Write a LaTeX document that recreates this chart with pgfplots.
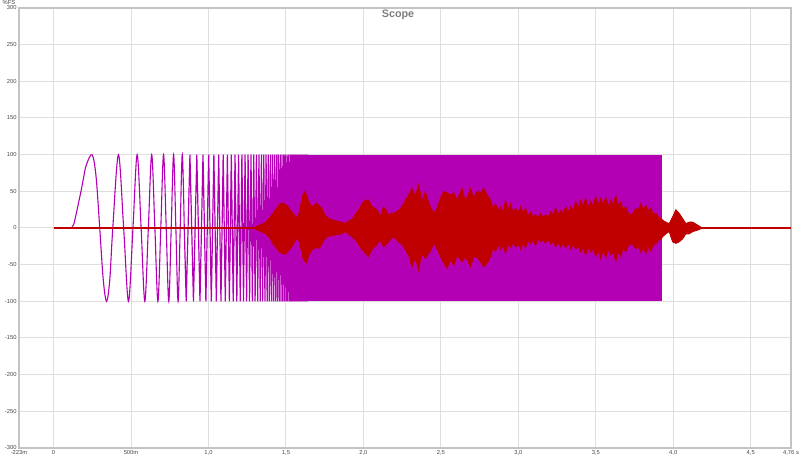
\documentclass[border=0pt]{standalone}
\usepackage{fontspec}
\setmainfont{Liberation Sans}
\usepackage{pgfplots}
\usepackage{pgfplotstable}
\pgfplotsset{compat=1.18}
\usepgfplotslibrary{fillbetween}
\definecolor{mag}{RGB}{180,0,180}
\definecolor{resp}{RGB}{192,0,0}
\definecolor{gridc}{RGB}{222,222,222}
\definecolor{framec}{RGB}{195,195,195}
\definecolor{labc}{RGB}{70,70,70}
\definecolor{titc}{RGB}{125,125,125}

\pgfplotstableread{
t up lo
1.2800 0 0
1.3001 1 -1
1.3195 3 -3
1.3454 5 -6
1.3713 8 -8
1.3972 15 -14
1.4166 20 -22
1.4405 27 -28
1.4554 32 -33
1.4728 34 -34
1.4877 33 -36
1.5052 31 -34
1.5201 27 -30
1.5375 22 -26
1.5524 18 -20
1.5699 14 -14
1.5847 20 -18
1.5977 35 -30
1.6106 46 -42
1.6235 50 -46
1.6345 44 -48
1.6462 36 -38
1.6669 29 -30
1.6818 31 -28
1.6992 34 -26
1.7141 30 -28
1.7316 27 -22
1.7464 20 -16
1.7639 15 -12
1.7853 12 -11
1.8066 11 -10
1.8305 9 -9
1.8609 8 -8
1.8823 6 -5
1.9017 9 -8
1.9256 12 -12
1.9470 18 -16
1.9664 24 -22
1.9858 31 -28
2.0006 36 -32
2.0181 38 -36
2.0330 38 -39
2.0550 29 -29
2.0763 27 -25
2.0957 22 -20
2.1087 15 -17
2.1300 29 -26
2.1475 24 -22
2.1624 18 -19
2.1798 20 -14
2.1947 20 -12
2.2122 22 -16
2.2270 24 -19
2.2445 28 -22
2.2594 33 -26
2.2768 40 -32
2.2917 45 -37
2.3027 50 -46
2.3137 54 -53
2.3241 48 -46
2.3351 45 -41
2.3461 52 -50
2.3564 59 -58
2.3674 48 -45
2.3784 36 -37
2.3888 42 -38
2.3997 50 -42
2.4159 38 -36
2.4321 29 -32
2.4534 20 -21
2.4754 27 -29
2.4968 41 -39
2.5181 50 -48
2.5401 48 -55
2.5614 45 -44
2.5828 48 -51
2.6048 38 -37
2.6197 46 -42
2.6371 54 -46
2.6585 36 -39
2.6746 45 -46
2.6908 54 -53
2.7122 41 -39
2.7342 50 -40
2.7555 48 -46
2.7769 54 -53
2.7988 45 -48
2.8202 38 -39
2.8364 27 -28
2.8525 33 -32
2.8687 24 -23
2.8849 29 -29
2.9011 22 -24
2.9172 38 -35
2.9334 25 -22
2.9495 33 -27
2.9657 21 -20
2.9819 27 -26
2.9981 21 -22
3.0142 29 -29
3.0304 20 -21
3.0466 27 -27
3.0628 17 -18
3.0789 22 -21
3.0951 15 -17
3.1113 18 -24
3.1275 14 -15
3.1436 20 -19
3.1598 14 -16
3.1759 18 -21
3.1921 15 -16
3.2083 22 -22
3.2245 18 -19
3.2406 27 -26
3.2568 19 -20
3.2730 24 -26
3.2892 20 -21
3.3053 29 -27
3.3215 22 -21
3.3376 29 -29
3.3538 24 -22
3.3700 36 -29
3.3862 27 -24
3.4023 38 -33
3.4185 29 -27
3.4347 41 -37
3.4509 28 -27
3.4670 36 -33
3.4832 30 -28
3.4994 43 -39
3.5156 32 -31
3.5317 41 -42
3.5479 31 -30
3.5640 42 -41
3.5802 30 -29
3.5964 38 -37
3.6126 31 -33
3.6287 45 -46
3.6449 30 -32
3.6611 36 -39
3.6773 25 -27
3.6934 29 -33
3.7096 20 -24
3.7257 18 -22
3.7419 21 -23
3.7581 27 -29
3.7743 24 -25
3.7904 33 -33
3.8066 25 -27
3.8228 31 -35
3.8390 24 -26
3.8551 27 -32
3.8713 19 -22
3.8875 20 -22
3.9037 15 -17
3.9198 13 -15
3.9360 10 -11
3.9521 8 -8
3.9735 6 -5
3.9955 15 -19
4.0168 25 -21
4.0382 20 -19
4.0602 13 -15
4.0815 6 -8
4.1028 8 -8
4.1248 8 -5
4.1572 4 -3
4.1785 1 -1
4.1979 0.5 -0.5
4.2200 0 0
}\resptable

\begin{document}
\begin{tikzpicture}
\begin{axis}[
  scale only axis, width=386pt, height=220pt,
  xmin=-0.223, xmax=4.76, ymin=-300, ymax=300,
  xtick={-0.223,0,0.5,1,1.5,2,2.5,3,3.5,4,4.5,4.76},
  xticklabels={-223m,0,500m,{1,0},{1,5},{2,0},{2,5},{3,0},{3,5},{4,0},{4,5},{4,76 s}},
  ytick={-300,-250,...,300},
  grid=major,
  major grid style={gridc, line width=0.5pt},
  axis line style={framec, line width=1.2pt},
  major tick length=0pt,
  /pgf/number format/assume math mode=true,
  tick label style={font=\fontsize{2.9}{3.4}\selectfont, text=labc},
  yticklabel style={inner sep=1pt},
  xticklabel style={inner sep=1.2pt},
  fill between/on layer=main,
]
% excitation sweep: fade-in and first slow cycles (peaks, zero crossings, troughs)
\addplot[mag, line width=0.55pt, smooth, tension=0.55] coordinates {
(0.1,0) (0.113,0) (0.13,5) (0.147,20) (0.163,36) (0.179,52) (0.195,70) (0.2115,86) (0.2486,100)
(0.2741,70.7) (0.2981,0) (0.3208,-70.7) (0.3423,-100) (0.3628,-70.7) (0.3824,0) (0.4189,100) (0.4525,0)
(0.4837,-100) (0.5126,0) (0.5397,100) (0.5652,0) (0.5892,-100) (0.6119,0) (0.6335,100) (0.6540,0)
(0.6735,-100) (0.6922,0) (0.7100,100) (0.7272,0) (0.7437,-100) (0.7595,0) (0.7748,100) (0.7895,0)
(0.8038,-100) (0.8175,0) (0.8309,100) (0.8438,0)
};
% excitation sweep: faster cycles (peaks and troughs)
\addplot[mag, line width=0.6pt] coordinates {
(0.8438,0) (0.8563,-100) (0.8803,100) (0.9030,-100) (0.9246,100)
(0.9451,-100) (0.9646,100) (0.9833,-100) (1.0012,100) (1.0183,-100) (1.0348,100) (1.0506,-100) (1.0659,100)
(1.0806,-100) (1.0949,100) (1.1086,-100) (1.1220,100) (1.1349,-100) (1.1474,100) (1.1596,-100) (1.1715,100)
(1.1830,-100) (1.1942,100) (1.2051,-100) (1.2157,100) (1.2261,-100) (1.2362,100) (1.2461,-100) (1.2557,100)
(1.2652,-100) (1.2744,100) (1.2834,-100) (1.2923,100) (1.3009,-100) (1.3094,100) (1.3177,-100) (1.3259,100)
(1.3339,-100) (1.3417,100) (1.3495,-100) (1.3570,100) (1.3645,-100) (1.3718,100) (1.3789,-100) (1.3860,100)
(1.3929,-100) (1.3998,100) (1.4065,-100) (1.4131,100) (1.4196,-100) (1.4260,100) (1.4323,-100) (1.4386,100)
(1.4447,-100) (1.4507,100) (1.4567,-100) (1.4626,100) (1.4684,-100) (1.4741,100) (1.4797,-100) (1.4853,100)
(1.4908,-100) (1.4962,100) (1.5015,-100) (1.5068,100) (1.5120,-100) (1.5172,100) (1.5223,-100) (1.5273,100)
(1.5323,-100) (1.5372,100) (1.5421,-100) (1.5469,100) (1.5516,-100) (1.5563,100) (1.5609,-100) (1.5655,100)
(1.5701,-100) (1.5746,100) (1.5790,-100) (1.5834,100) (1.5878,-100) (1.5921,100) (1.5963,-100) (1.6005,100)
(1.6047,-100) (1.6089,100) (1.6130,-100) (1.6170,100) (1.6210,-100) (1.6250,100) (1.6290,-100) (1.6329,100)
(1.6367,-100) (1.6406,100)
};
% excitation sweep (dense part, rendered solid)
\addplot[draw=none, fill=mag] coordinates {(1.6380,-100) (1.6380,100) (3.926,100) (3.926,-100)} -- cycle;
% measured response
\addplot[resp, line width=0.6pt] coordinates {(0,0) (4.76,0)};
\addplot[name path=up, resp, line width=0.4pt] table[x=t, y=up] {\resptable};
\addplot[name path=lo, resp, line width=0.4pt] table[x=t, y=lo] {\resptable};
\addplot[resp] fill between[of=up and lo];
\end{axis}
\node[font=\bfseries\fontsize{5.4}{6}\selectfont, text=titc, inner sep=0pt, anchor=north]
  at ([xshift=-3.5pt, yshift=-1pt]current axis.north) {Scope};
\node[font=\fontsize{2.9}{3.4}\selectfont, text=labc, inner sep=0pt]
  at ([xshift=-5pt, yshift=2.8pt]current axis.north west) {\%FS};
\pgfresetboundingbox
\path ([xshift=-9.5pt, yshift=-6pt]current axis.south west) rectangle ([xshift=4.5pt, yshift=4pt]current axis.north east);
\end{tikzpicture}
\end{document}
